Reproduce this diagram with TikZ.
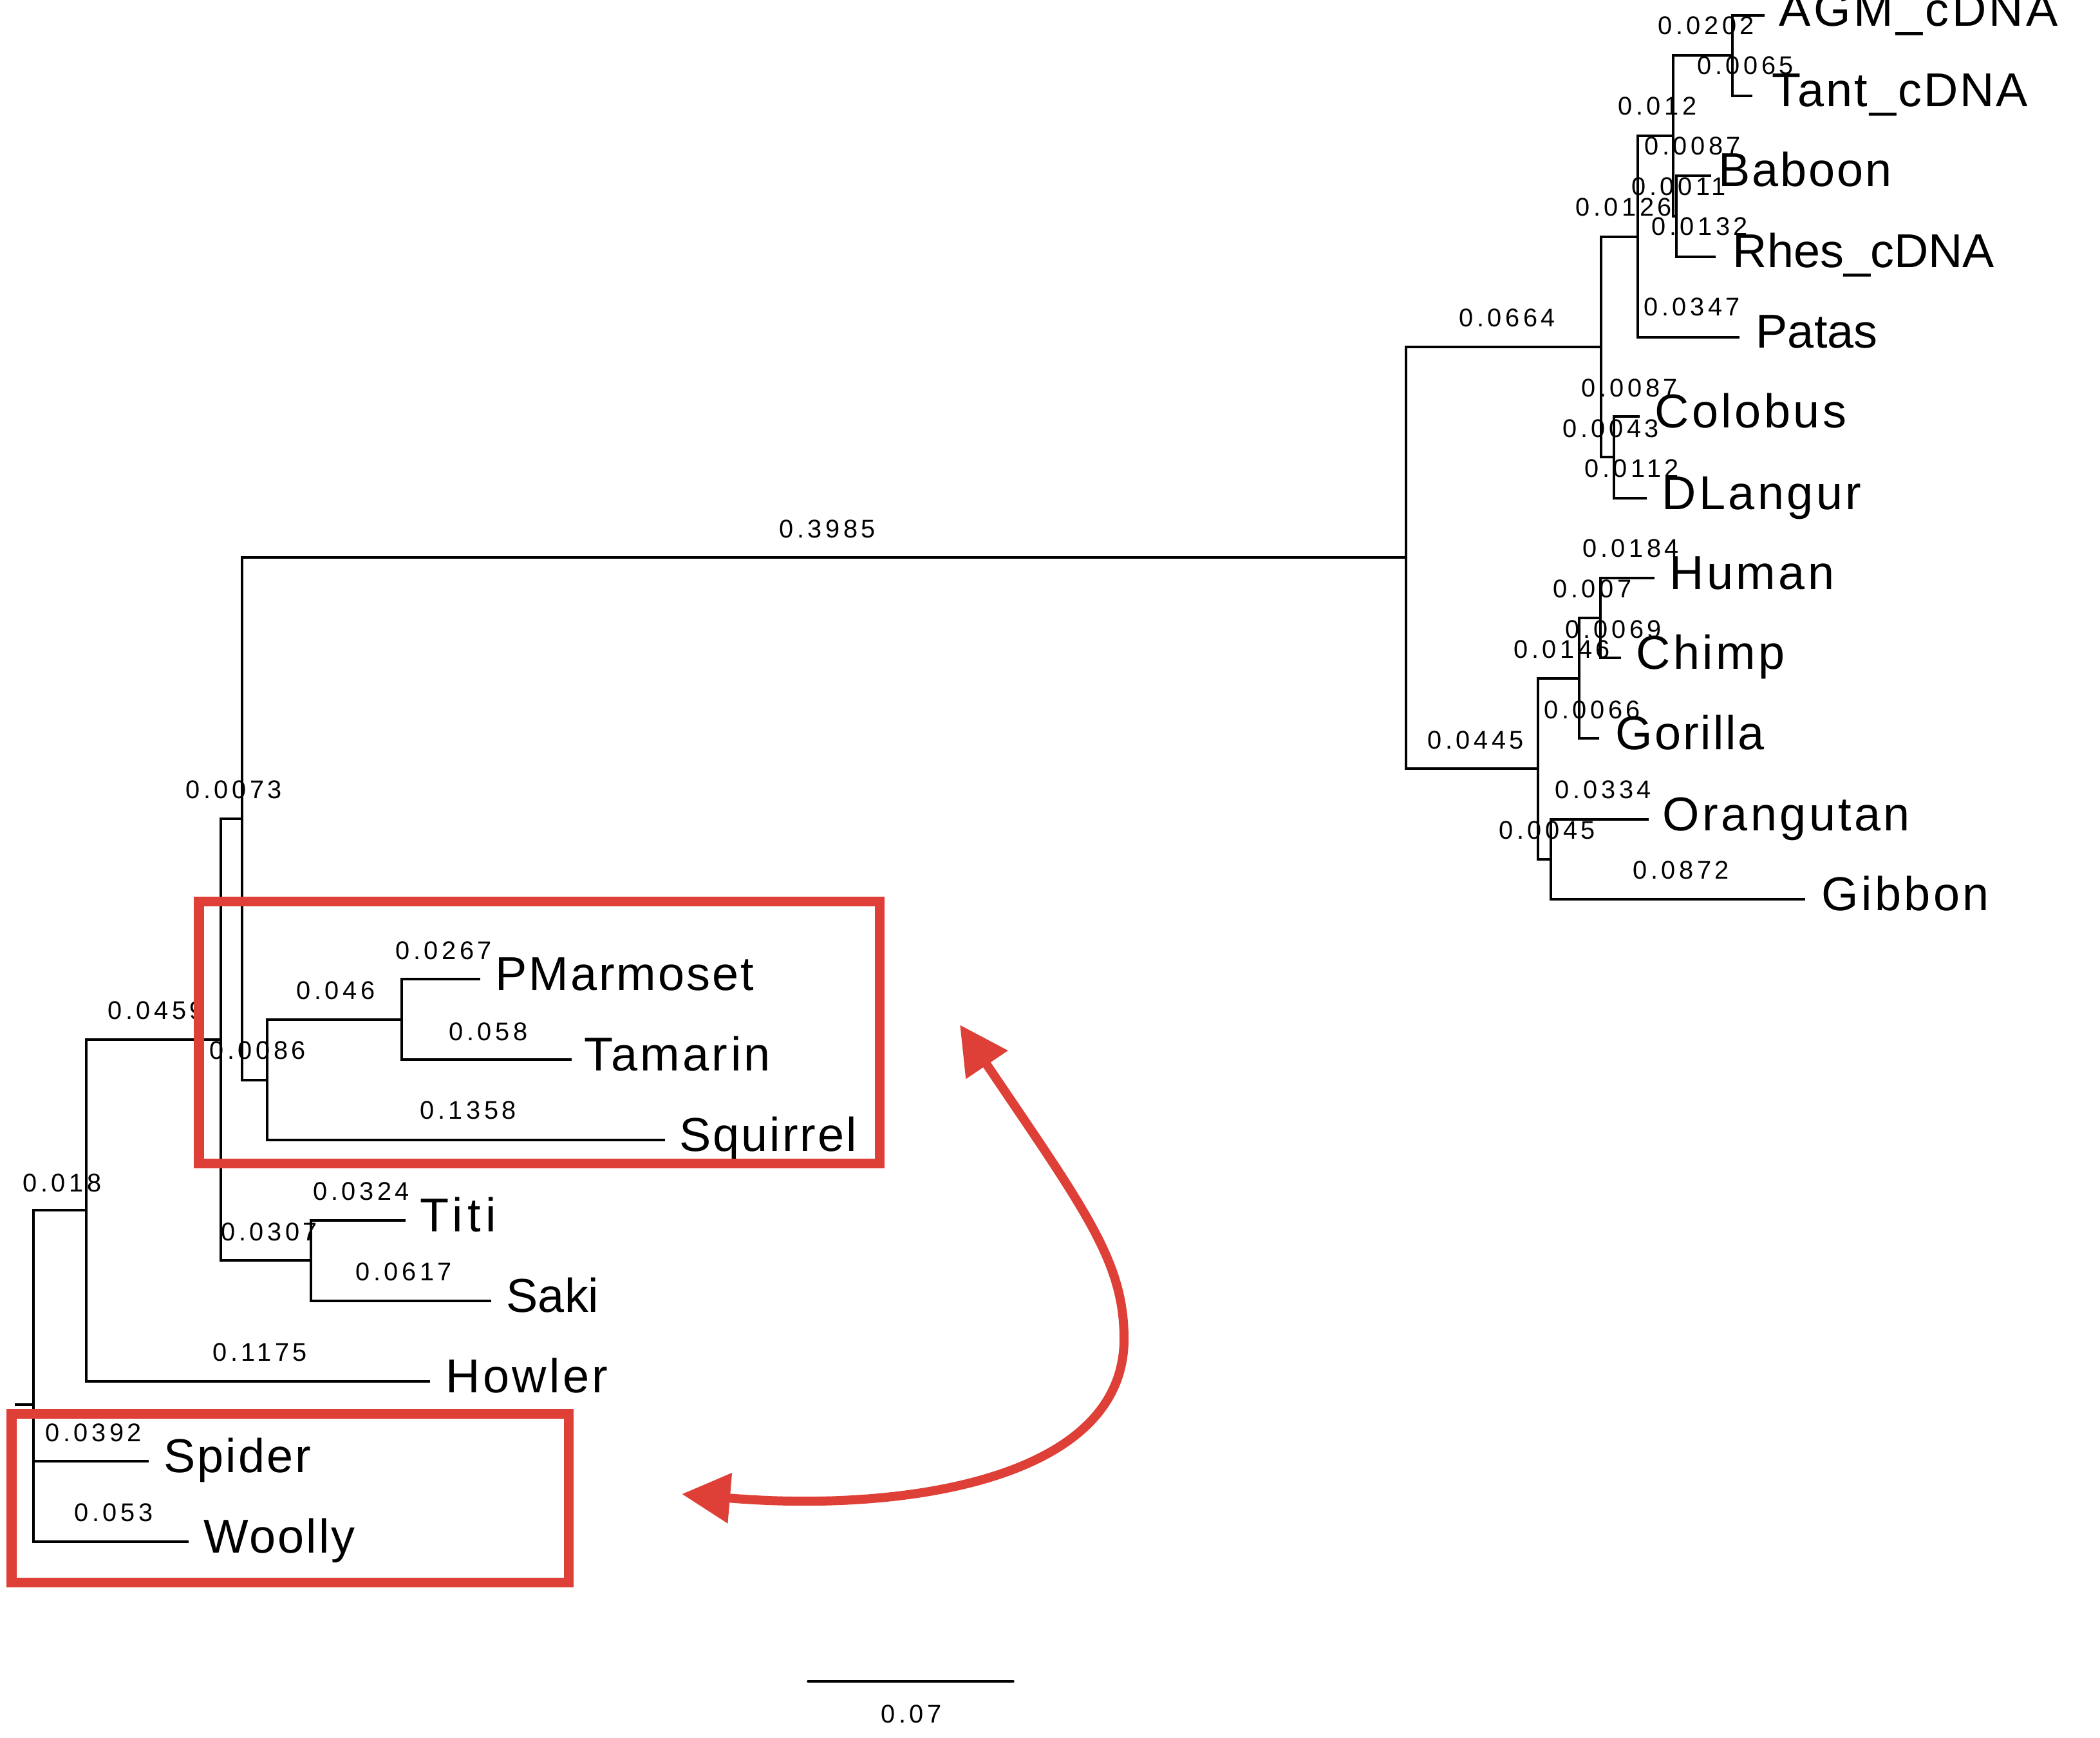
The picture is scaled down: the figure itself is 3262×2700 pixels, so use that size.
\documentclass[tikz,border=0pt]{standalone}
\usepackage{fontspec}
\setmainfont{Liberation Sans}
\newfontfamily\leaffont[LetterSpace=6]{Liberation Sans}
\newfontfamily\leafnarrow{Liberation Sans}
\newfontfamily\leafmid[LetterSpace=4]{Liberation Sans}
\newfontfamily\leafwide[LetterSpace=10]{Liberation Sans}
\newfontfamily\numfont[LetterSpace=14]{Liberation Sans}
\usetikzlibrary{arrows.meta,fit}
\definecolor{boxred}{RGB}{222,63,55}
\begin{document}
\begin{tikzpicture}[x=0.01cm,y=-0.01cm,
  branch/.style={line width=1pt},
  leaflab/.style={anchor=base west, inner sep=0pt, font=\leaffont\fontsize{21pt}{25pt}\selectfont},
  leafZ/.style={leaflab, font=\leafnarrow\fontsize{21pt}{25pt}\selectfont},
  leafM/.style={leaflab, font=\leafmid\fontsize{21pt}{25pt}\selectfont},
  leafW/.style={leaflab, font=\leafwide\fontsize{21pt}{25pt}\selectfont},
  brlab/.style={anchor=base west, inner sep=0pt, font=\numfont\fontsize{11.3pt}{13pt}\selectfont},
  redbox/.style={draw=boxred, line width=0.15cm, inner sep=0pt},
  redarrow/.style={draw=boxred, line width=0.14cm, {Triangle[length=0.75cm,width=0.75cm]}-{Triangle[length=0.75cm,width=0.75cm]}}
]
\useasboundingbox (0,0) rectangle (3262,2700);

% internal nodes
\coordinate (A) at (2691,86);
\coordinate (C) at (2604,336);
\coordinate (B) at (2599,211);
\coordinate (D) at (2544,368);
\coordinate (F) at (2507,710);
\coordinate (E) at (2487,539);
\coordinate (H) at (2486,960);
\coordinate (I) at (2453,1054);
\coordinate (K) at (2409,1335);
\coordinate (J) at (2389,1194);
\coordinate (G) at (2184,866);
\coordinate (N) at (624,1584);
\coordinate (M) at (415,1678);
\coordinate (O) at (376,1272);
\coordinate (Q) at (483,1958);
\coordinate (L) at (343,1615);
\coordinate (P) at (134,1880);
\coordinate (R) at (52,2182);
\coordinate (R0) at (23,2182);

% leaf tips
\coordinate (AGM) at (2741,24);
\coordinate (Tant) at (2722,149);
\coordinate (Baboon) at (2658,273);
\coordinate (Rhes) at (2665,399);
\coordinate (Patas) at (2702,524);
\coordinate (Colobus) at (2547,647);
\coordinate (DLangur) at (2558,774);
\coordinate (Human) at (2570,898);
\coordinate (Chimp) at (2518,1022);
\coordinate (Gorilla) at (2484,1147);
\coordinate (Orangutan) at (2561,1273);
\coordinate (Gibbon) at (2804,1397);
\coordinate (PMarmoset) at (746,1521);
\coordinate (Tamarin) at (888,1646);
\coordinate (Squirrel) at (1033,1771);
\coordinate (Titi) at (630,1896);
\coordinate (Saki) at (763,2021);
\coordinate (Howler) at (668,2146);
\coordinate (Spider) at (231,2270);
\coordinate (Woolly) at (293,2395);

% branches
\draw[branch] (B) |- (A);  \draw[branch] (B) |- (C);
\draw[branch] (A) |- (AGM); \draw[branch] (A) |- (Tant);
\draw[branch] (C) |- (Baboon); \draw[branch] (C) |- (Rhes);
\draw[branch] (D) |- (B); \draw[branch] (D) |- (Patas);
\draw[branch] (E) |- (D); \draw[branch] (E) |- (F);
\draw[branch] (F) |- (Colobus); \draw[branch] (F) |- (DLangur);
\draw[branch] (G) |- (E); \draw[branch] (G) |- (J);
\draw[branch] (J) |- (I); \draw[branch] (J) |- (K);
\draw[branch] (I) |- (H); \draw[branch] (I) |- (Gorilla);
\draw[branch] (H) |- (Human); \draw[branch] (H) |- (Chimp);
\draw[branch] (K) |- (Orangutan); \draw[branch] (K) |- (Gibbon);
\draw[branch] (O) |- (G); \draw[branch] (O) |- (M);
\draw[branch] (M) |- (N); \draw[branch] (M) |- (Squirrel);
\draw[branch] (N) |- (PMarmoset); \draw[branch] (N) |- (Tamarin);
\draw[branch] (L) |- (O); \draw[branch] (L) |- (Q);
\draw[branch] (Q) |- (Titi); \draw[branch] (Q) |- (Saki);
\draw[branch] (P) |- (L); \draw[branch] (P) |- (Howler);
\draw[branch] (R) |- (P); \draw[branch] (R) |- (Spider); \draw[branch] (R) |- (Woolly);
\draw[branch] (R0) -- (R);

% leaf labels
\node[leaflab] (tAGM) at (2763,41) {AGM\_cDNA};
\node[leafM] (tTant) at (2752,166) {Tant\_cDNA};
\node[leafM] (tBaboon) at (2669,290) {Baboon};
\node[leafZ] (tRhes) at (2691,416) {Rhes\_cDNA};
\node[leafZ] (tPatas) at (2727,541) {Patas};
\node[leaflab] (tColobus) at (2570,664) {Colobus};
\node[leaflab] (tDLangur) at (2581,791) {DLangur};
\node[leaflab] (tHuman) at (2593,915) {Human};
\node[leaflab] (tChimp) at (2541,1039) {Chimp};
\node[leafM] (tGorilla) at (2509,1164) {Gorilla};
\node[leaflab] (tOrangutan) at (2582,1290) {Orangutan};
\node[leaflab] (tGibbon) at (2829,1414) {Gibbon};
\node[leafM] (tPMarmoset) at (769,1538) {PMarmoset};
\node[leaflab] (tTamarin) at (907,1663) {Tamarin};
\node[leafM] (tSquirrel) at (1055,1788) {Squirrel};
\node[leafW] (tTiti) at (652,1913) {Titi};
\node[leafZ] (tSaki) at (786,2038) {Saki};
\node[leaflab] (tHowler) at (692,2163) {Howler};
\node[leafM] (tSpider) at (254,2287) {Spider};
\node[leafM] (tWoolly) at (316,2412) {Woolly};

% branch length labels
\node[brlab] (l1) at (2575,54) {0.0202};
\node[brlab] (l2) at (2636,116) {0.0065};
\node[brlab] (l3) at (2513,179) {0.012};
\node[brlab] (l4) at (2554,241) {0.0087};
\node[brlab] (l5) at (2534,304) {0.0011};
\node[brlab] (l6) at (2447,336) {0.0126};
\node[brlab] (l7) at (2565,366) {0.0132};
\node[brlab] (l8) at (2553,491) {0.0347};
\node[brlab] (l9) at (2266,508) {0.0664};
\node[brlab] (l10) at (2456,616) {0.0087};
\node[brlab] (l11) at (2427,679) {0.0043};
\node[brlab] (l12) at (2461,741) {0.0112};
\node[brlab] (l13) at (1210,835) {0.3985};
\node[brlab] (l14) at (2458,865) {0.0184};
\node[brlab] (l15) at (2412,928) {0.007};
\node[brlab] (l16) at (2431,991) {0.0069};
\node[brlab] (l17) at (2351,1022) {0.0146};
\node[brlab] (l18) at (2398,1116) {0.0066};
\node[brlab] (l19) at (2217,1163) {0.0445};
\node[brlab] (l20) at (2415,1240) {0.0334};
\node[brlab] (l21) at (2328,1303) {0.0045};
\node[brlab] (l22) at (2536,1365) {0.0872};
\node[brlab] (l23) at (288,1240) {0.0073};
\node[brlab] (l24) at (614,1490) {0.0267};
\node[brlab] (l25) at (460,1552) {0.046};
\node[brlab] (l26) at (167,1583) {0.0459};
\node[brlab] (l27) at (325,1645) {0.0086};
\node[brlab] (l28) at (697,1616) {0.058};
\node[brlab] (l29) at (652,1738) {0.1358};
\node[brlab] (l30) at (35,1851) {0.018};
\node[brlab] (l31) at (486,1864) {0.0324};
\node[brlab] (l32) at (343,1927) {0.0307};
\node[brlab] (l33) at (552,1989) {0.0617};
\node[brlab] (l34) at (330,2114) {0.1175};
\node[brlab] (l35) at (70,2239) {0.0392};
\node[brlab] (l36) at (115,2363) {0.053};

% scale bar
\coordinate (sb1) at (1255,2612);
\coordinate (sb2) at (1574,2612);
\draw[branch, line cap=round] (sb1) -- (sb2);
\node[brlab] (sblab) at (1368,2676) {0.07};

% red boxes
\node[redbox, fit={(309,1400) (1366,1807)}] (box1) {};
\node[redbox, fit={(18,2196) (883,2458)}] (box2) {};

% red arrow
\coordinate (arTop) at (1491,1592);
\coordinate (arMid) at (1746,2080);
\coordinate (arBot) at (1059,2321);
\draw[redarrow] (arTop) .. controls (1687,1882) and (1746,1960) .. (arMid)
  .. controls (1746,2300) and (1400,2350) .. (arBot);
\end{tikzpicture}
\end{document}
